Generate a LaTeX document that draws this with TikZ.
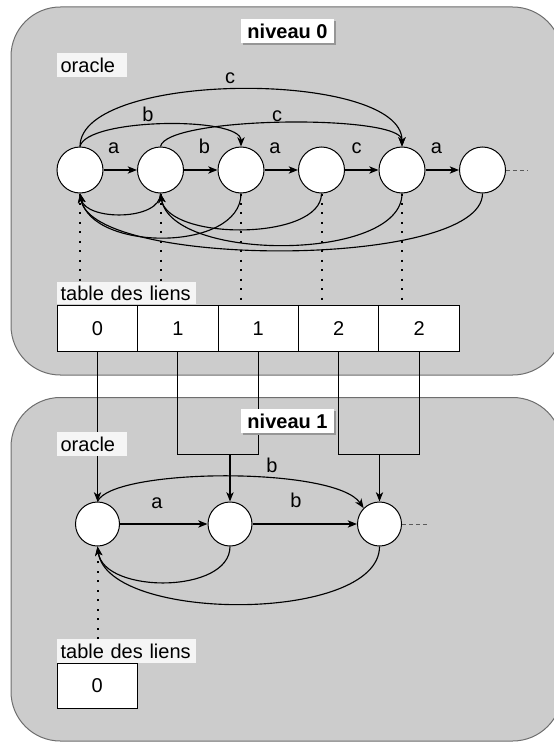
\documentclass[tikz,border=0pt]{standalone}
\usepackage{fontspec}
\setmainfont{Liberation Sans}
\usetikzlibrary{arrows.meta,shadows}
\definecolor{panelfill}{RGB}{204,204,204}
\definecolor{paneldraw}{RGB}{110,110,110}
\definecolor{labelbg}{RGB}{245,245,245}
\definecolor{shadowc}{RGB}{150,150,150}
\definecolor{tailc}{RGB}{90,90,90}
\begin{document}
\begin{tikzpicture}[x=0.75pt,y=-0.75pt,
  every node/.style={font=\fontsize{15}{18}\selectfont},
  panel/.style={fill=panelfill,draw=paneldraw,line width=0.75pt,rounded corners=37pt},
  tstate/.style={circle,draw,fill=white,line width=0.75pt,minimum size=34.5pt,inner sep=0pt},
  bstate/.style={circle,draw,fill=white,line width=0.75pt,minimum size=33pt,inner sep=0pt},
  cell/.style={draw,fill=white,line width=0.75pt,minimum width=60.3pt,minimum height=34.2pt,inner sep=0pt},
  arr/.style={-{Stealth[length=7pt,width=5.5pt,inset=2pt]},line width=0.85pt},
  plain/.style={line width=0.85pt},
  dots/.style={line width=1.5pt,dash pattern=on 1.5pt off 5.6pt},
  tail/.style={draw=tailc,line width=0.75pt,dash pattern=on 3pt off 2.2pt},
  elab/.style={anchor=base,inner sep=0pt},
  boxlab/.style={fill=labelbg,anchor=north west,inner xsep=2.5pt,inner ysep=0pt,minimum height=#1,align=left},
  niv/.style={fill=white,font=\fontsize{15}{18}\selectfont\bfseries,minimum width=69.75pt,minimum height=18pt,inner sep=0pt,
     drop shadow={shadow xshift=1.8pt,shadow yshift=-1.8pt,fill=shadowc,opacity=1}}
]
\useasboundingbox (0,0) rectangle (553,742);

% panels
\draw[panel] (11,7) rectangle (562,375);
\draw[panel] (11,397.5) rectangle (562,741);

% ---------- level 0 ----------
\node[tstate] (t1) at (80,170) {};
\node[tstate] (t2) at (160.5,170) {};
\node[tstate] (t3) at (241,170) {};
\node[tstate] (t4) at (321.5,170) {};
\node[tstate] (t5) at (402,170) {};
\node[tstate] (t6) at (482.5,170) {};
\coordinate (tailA) at (528,170);

\foreach \i/\x in {0/97.5,1/177.9,2/258.3,3/338.7,4/419.1}
  \node[cell] (k\i) at (\x,328.5) {};
\node at (k0) {0};
\node at (k1) {1};
\node at (k2) {1};
\node at (k3) {2};
\node at (k4) {2};

\node[boxlab=18pt,text width=47pt] (or0) at (57,53) {oracle};
\node[boxlab=16pt,text width=99pt] (tl0) at (57,282) {table des liens};

% dotted links
\draw[dots] (t1.south) -- (t1.south |- tl0.north);
\draw[dots] (t2.south) -- (t2.south |- tl0.north);
\draw[dots] (t3.south) -- (t3.south |- k2.north);
\draw[dots] (t4.south) -- (t4.south |- k3.north);
\draw[dots] (t5.south) -- (t5.south |- k4.north);

% forward transitions
\draw[arr] (t1) -- (t2);
\draw[arr] (t2) -- (t3);
\draw[arr] (t3) -- (t4);
\draw[arr] (t4) -- (t5);
\draw[arr] (t5) -- (t6);
\draw[tail] (t6.east) -- (tailA);

\draw[arr] (t1.north) .. controls (80,70) and (402,70) .. (t5.north);
\draw[arr] (t1.north) .. controls (86,118) and (241,116) .. (t3.north);
\draw[arr] (t2.north) .. controls (166,116) and (402,114) .. (t5.north);

% suffix links
\draw[arr] (t2.south) .. controls (160.5,221) and (86,221) .. (t1.south);
\draw[arr] (t3.south) .. controls (241,252) and (92,252) .. (t1.south);
\draw[arr] (t4.south) .. controls (321.5,241) and (168,241) .. (t2.south);
\draw[arr] (t5.south) .. controls (402,262) and (172,262) .. (t2.south);
\draw[arr] (t6.south) .. controls (482.5,269) and (92,269) .. (t1.south);

% labels
\node[elab] at (113.6,153.3) {a};
\node[elab] at (204.5,153.3) {b};
\node[elab] at (275,153.3) {a};
\node[elab] at (356.5,153.3) {c};
\node[elab] at (436.5,153.3) {a};
\node[elab] at (148,121.7) {b};
\node[elab] at (277,121.7) {c};
\node[elab] at (230,84) {c};

\node[niv] (n0) at (287.5,31) {niveau 0};

% ---------- level 1 ----------
\node[bstate] (b1) at (97.5,524) {};
\node[bstate] (b2) at (230,524) {};
\node[bstate] (b3) at (379.5,524) {};
\coordinate (tailB) at (427,524);
\coordinate (j1) at (230,454.3);
\coordinate (j2) at (379.5,454.3);

% links from the table
\draw[arr] (k0.south) -- (b1.north);
\draw[plain] (k1.south) |- (j1) -| (k2.south);
\draw[plain] (k3.south) |- (j2) -| (k4.south);
\draw[arr] (j1) -- (b2.north);
\draw[arr] (j2) -- (b3.north);

\draw[arr] (b1) -- (b2);
\draw[arr] (b2) -- (b3);
\draw[tail] (b3.east) -- (tailB);
\draw[arr] (b1.north) .. controls (112,468) and (335,466) .. (b3.north west);
\draw[arr] (b2.south) .. controls (230,594) and (104,594) .. (b1.south);
\draw[arr] (b3.south) .. controls (379.5,623) and (108,623) .. (b1.south);

\node[elab] at (157,508.3) {a};
\node[elab] at (296,507.7) {b};
\node[elab] at (272,472.7) {b};

\node[cell] (m0) at (97.3,686) {0};
\node[boxlab=18pt,text width=99pt] (tl1) at (57,639) {table des liens};
\draw[dots] (b1.south |- tl1.north) -- (b1.south);

\node[boxlab=18pt,text width=47pt] (or1) at (57,432) {oracle};
\node[niv] (n1) at (287.5,421) {niveau 1};
\end{tikzpicture}
\end{document}
